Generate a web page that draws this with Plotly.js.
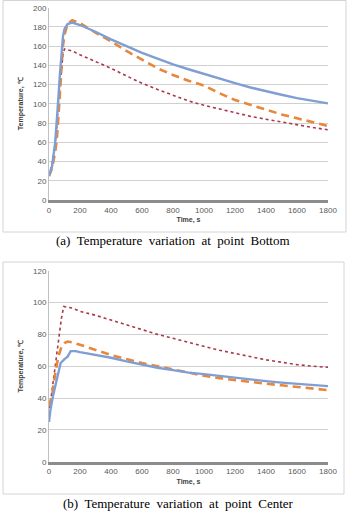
<!DOCTYPE html>
<html>
<head>
<meta charset="utf-8">
<script src="https://cdn.plot.ly/plotly-3.0.1.min.js"></script>
<style>
html,body{margin:0;padding:0;background:#fff;}
#chart{width:352px;height:511px;}
</style>
</head>
<body>
<div id="chart"></div>
<script>
// ---- Chart (a): point Bottom ----
const bottomBlueX = [0, 20, 40, 50, 60, 70, 80, 90, 100, 120, 150, 200, 300, 400, 500, 600, 700, 800, 900, 1000, 1100, 1200, 1300, 1400, 1500, 1600, 1700, 1800];
const bottomBlueY = [25, 35, 60, 80, 105, 130, 155, 170, 178, 183, 184.5, 182, 175, 167, 160, 153, 147, 141, 136, 131, 126, 121.5, 117, 113, 109.5, 106, 103, 100.5];
const bottomOrangeX = [0, 20, 40, 50, 60, 70, 80, 90, 100, 120, 150, 200, 300, 400, 500, 600, 700, 800, 900, 1000, 1100, 1200, 1300, 1400, 1500, 1600, 1700, 1800];
const bottomOrangeY = [25, 33, 50, 62, 85, 110, 140, 160, 172, 183, 187, 184, 174, 165, 155, 146, 137, 130, 124, 119, 111, 104, 99, 93.5, 89, 85, 81, 77];
const bottomRedX = [0, 20, 40, 50, 60, 70, 80, 90, 100, 150, 200, 300, 400, 500, 600, 700, 800, 900, 1000, 1100, 1200, 1300, 1400, 1500, 1600, 1700, 1800];
const bottomRedY = [25, 38, 60, 75, 100, 120, 140, 152, 157, 155, 151, 144, 137, 129, 121.5, 115, 109, 103, 98.5, 94.5, 90.5, 87, 84, 81, 78.5, 75.5, 73];

// ---- Chart (b): point Center ----
const centerBlueX = [0, 10, 25, 55, 75, 100, 120, 140, 170, 200, 300, 400, 500, 600, 700, 800, 900, 1000, 1100, 1200, 1300, 1400, 1500, 1600, 1700, 1800];
const centerBlueY = [25, 33, 41, 53, 62, 64.5, 66, 69.5, 69.5, 68.8, 67, 65.3, 63, 60.8, 59, 57.5, 56, 55, 53.8, 52.7, 51.6, 50.6, 49.7, 48.9, 48.1, 47.5];
const centerOrangeX = [0, 20, 40, 60, 80, 100, 120, 150, 200, 300, 400, 500, 600, 700, 800, 900, 1000, 1100, 1200, 1300, 1400, 1500, 1600, 1700, 1800];
const centerOrangeY = [35, 42, 55, 66, 72, 74.5, 75.5, 75, 73.5, 70, 67, 64.5, 62, 60, 58, 56, 54, 52.5, 51.2, 50, 49, 48, 47, 46, 45];
const centerRedX = [0, 20, 40, 60, 80, 95, 150, 200, 300, 400, 500, 600, 700, 800, 900, 1000, 1100, 1200, 1300, 1400, 1500, 1600, 1700, 1800];
const centerRedY = [30, 45, 60, 75, 90, 97.5, 96.5, 94.5, 92, 89, 86, 82.7, 80, 77.5, 75, 72.5, 70, 68, 66, 64, 62.5, 61, 60, 59.3];

const xTitle = "Time, s";
const yTitle = "Temperature, ℃";
const captionA = "(a)  Temperature  variation  at  point  Bottom";
const captionB = "(b)  Temperature  variation  at  point  Center";

const W = 352, H = 511;
const px = v => v / W;
const py = v => 1 - v / H;

const blue = '#7F9FD4', orange = '#E8873A', red = '#A8384A';

function traces(xa, ya, bx, by, ox, oy, rx, ry) {
  return [
    {x: rx, y: ry, xaxis: xa, yaxis: ya, type: 'scatter', mode: 'lines',
     line: {color: red, width: 1.6, dash: 'dot'}},
    {x: ox, y: oy, xaxis: xa, yaxis: ya, type: 'scatter', mode: 'lines',
     line: {color: orange, width: 2.6, dash: '8px,5px'}},
    {x: bx, y: by, xaxis: xa, yaxis: ya, type: 'scatter', mode: 'lines',
     line: {color: blue, width: 2.4}}
  ];
}

const data = [
  ...traces('x', 'y', bottomBlueX, bottomBlueY, bottomOrangeX, bottomOrangeY, bottomRedX, bottomRedY),
  ...traces('x2', 'y2', centerBlueX, centerBlueY, centerOrangeX, centerOrangeY, centerRedX, centerRedY)
];

const tickFont = {family: 'Liberation Sans, Arial, sans-serif', size: 8, color: '#595959'};
const titleFont = {family: 'Liberation Sans, Arial, sans-serif', size: 7, color: '#404040', weight: 'bold'};

function xAxis(anchor, domainY) {
  return {
    anchor: anchor, domain: [px(49), px(328)], range: [0, 1800],
    tick0: 0, dtick: 200, showgrid: false, zeroline: false,
    showline: true, linecolor: '#8c8c8c', linewidth: 3,
    ticks: '', tickfont: tickFont,
    title: {text: '<b>' + xTitle + '</b>', font: titleFont, standoff: 4}
  };
}
function yAxis(anchor, domain, maxV) {
  return {
    anchor: anchor, domain: domain, range: [0, maxV],
    tick0: 0, dtick: 20, showgrid: true, gridcolor: '#d0d0d0', gridwidth: 1,
    zeroline: false, showline: true, linecolor: '#c0c0c0', linewidth: 1,
    ticks: '', tickfont: tickFont,
    title: {text: '<b>' + yTitle + '</b>', font: titleFont, standoff: 8}
  };
}

const layout = {
  width: W, height: H,
  margin: {l: 0, r: 0, t: 0, b: 0},
  paper_bgcolor: '#fff', plot_bgcolor: '#fff',
  showlegend: false,
  xaxis: xAxis('y'),
  yaxis: yAxis('x', [py(200), py(7.7)], 200),
  xaxis2: xAxis('y2'),
  yaxis2: yAxis('x2', [py(461.7), py(270.7)], 120),
  shapes: [
    {type: 'rect', xref: 'paper', yref: 'paper', x0: px(3), x1: px(346), y0: py(232), y1: py(0.5),
     line: {color: '#d4d4d4', width: 1}, layer: 'below'},
    {type: 'rect', xref: 'paper', yref: 'paper', x0: px(3), x1: px(344), y0: py(494), y1: py(262),
     line: {color: '#d4d4d4', width: 1}, layer: 'below'}
  ],
  annotations: [
    {xref: 'paper', yref: 'paper', x: px(173), y: py(241), text: captionA, showarrow: false,
     xanchor: 'center', yanchor: 'middle',
     font: {family: 'Liberation Serif, Times New Roman, serif', size: 13, color: '#000'}},
    {xref: 'paper', yref: 'paper', x: px(178), y: py(503), text: captionB, showarrow: false,
     xanchor: 'center', yanchor: 'middle',
     font: {family: 'Liberation Serif, Times New Roman, serif', size: 13, color: '#000'}}
  ]
};

Plotly.newPlot('chart', data, layout, {staticPlot: true, displayModeBar: false});
</script>
</body>
</html>
